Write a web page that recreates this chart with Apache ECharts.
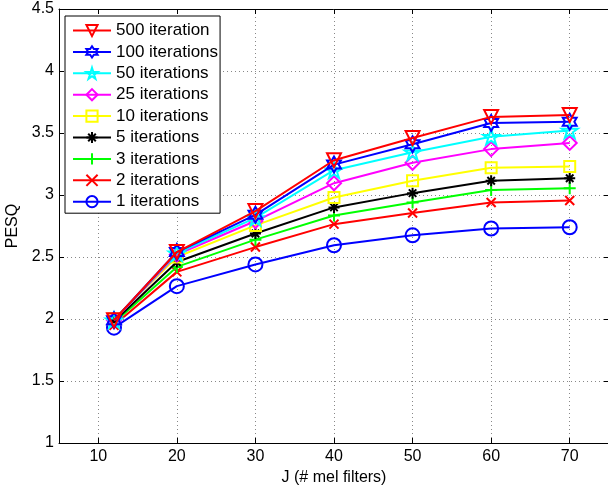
<!DOCTYPE html>
<html>
<head>
<meta charset="utf-8">
<script src="https://cdn.jsdelivr.net/npm/echarts@6/dist/echarts.min.js"></script>
<style>
  html, body { margin: 0; padding: 0; background: #fff; }
  #chart { width: 608px; height: 487px; }
</style>
</head>
<body>
<div id="chart"></div>
<script>
// J (# mel filters)
const J = [12, 20, 30, 40, 50, 60, 70];
const xTicks = [10, 20, 30, 40, 50, 60, 70];

// PESQ per iteration count
const it500 = [1.99, 2.54, 2.87, 3.28, 3.46, 3.63, 3.645];
const it100 = [1.99, 2.54, 2.84, 3.245, 3.41, 3.58, 3.59];
const it50  = [1.99, 2.53, 2.815, 3.20, 3.345, 3.47, 3.52];
const it25  = [1.99, 2.52, 2.79, 3.095, 3.26, 3.37, 3.42];
const it10  = [2.00, 2.50, 2.755, 2.98, 3.115, 3.22, 3.23];
const it5   = [1.98, 2.46, 2.69, 2.90, 3.015, 3.115, 3.135];
const it3   = [1.97, 2.42, 2.64, 2.835, 2.94, 3.04, 3.055];
const it2   = [1.95, 2.38, 2.58, 2.765, 2.855, 2.94, 2.955];
const it1   = [1.93, 2.265, 2.44, 2.595, 2.675, 2.73, 2.74];

const names = ['500 iteration', '100 iterations', '50 iterations', '25 iterations',
  '10 iterations', '5 iterations', '3 iterations', '2 iterations', '1 iterations'];

// 标记形状
const PENTA = 'path://M50,0L61.2,34.5L97.6,34.5L68.2,55.9L79.4,90.5L50,69.1L20.6,90.5L31.8,55.9L2.4,34.5L38.8,34.5Z';
const HEXA = 'path://M50,0L64.4,25L93.3,25L78.9,50L93.3,75L64.4,75L50,100L35.6,75L6.7,75L21.1,50L6.7,25L35.6,25Z';
const ASTER = 'path://M50,0L50,100M0,50L100,50M16,16L84,84M84,16L16,84';
const PLUS = 'path://M50,0L50,100M0,50L100,50';
const CROSS = 'path://M0,0L100,100M100,0L0,100';

const styles = [
  { data: it500, color: '#ff0000', symbol: 'triangle', size: 14, rotate: 180 },
  { data: it100, color: '#0000ff', symbol: HEXA, size: 16 },
  { data: it50,  color: '#00ffff', symbol: PENTA, size: 16 },
  { data: it25,  color: '#ff00ff', symbol: 'diamond', size: 14 },
  { data: it10,  color: '#ffff00', symbol: 'rect', size: 11 },
  { data: it5,   color: '#000000', symbol: ASTER, size: 11 },
  { data: it3,   color: '#00ff00', symbol: PLUS, size: 12 },
  { data: it2,   color: '#ff0000', symbol: CROSS, size: 9 },
  { data: it1,   color: '#0000ff', symbol: 'circle', size: 14 },
];

const FONT = 'Liberation Sans';

const chart = echarts.init(document.getElementById('chart'), null, { renderer: 'canvas' });

const axisCommon = {
  axisLine: { show: true, onZero: false, lineStyle: { color: '#000', width: 1 } },
};

chart.setOption({
  animation: false,
  backgroundColor: '#fff',
  textStyle: { fontFamily: FONT },
  grid: { left: 59, right: -1, top: 9, bottom: 44, outerBoundsMode: 'none', containLabel: false },
  legend: {
    orient: 'vertical',
    left: 65, top: 16,
    padding: [6, 2, 3, 7],
    itemWidth: 38, itemHeight: 14, itemGap: 4.4,
    backgroundColor: '#fff',
    borderColor: '#000', borderWidth: 1, borderRadius: 0,
    textStyle: { fontFamily: FONT, fontSize: 17, color: '#000', lineHeight: 17 },
    data: names,
  },
  xAxis: [
    {
      type: 'value', min: 5, max: 75, position: 'bottom',
      name: 'J (# mel filters)', nameLocation: 'middle', nameGap: 22,
      nameTextStyle: { fontFamily: FONT, fontSize: 16, color: '#000' },
      ...axisCommon,
      axisTick: { inside: true, length: 5, customValues: xTicks, lineStyle: { color: '#000' } },
      axisLabel: { customValues: xTicks, fontFamily: FONT, fontSize: 16, color: '#000', margin: 6 },
      splitLine: { show: true, lineStyle: { color: '#888', type: [1, 3], width: 1 } },
    },
    {
      type: 'value', min: 5, max: 75, position: 'top',
      ...axisCommon,
      axisTick: { inside: true, length: 5, customValues: xTicks, lineStyle: { color: '#000' } },
      axisLabel: { show: false },
      splitLine: { show: false },
    },
  ],
  yAxis: [
    {
      type: 'value', min: 1, max: 4.5, interval: 0.5, position: 'left',
      name: 'PESQ', nameLocation: 'middle', nameGap: 38, nameRotate: 90,
      nameTextStyle: { fontFamily: FONT, fontSize: 16, color: '#000' },
      ...axisCommon,
      axisTick: { inside: true, length: 5, lineStyle: { color: '#000' } },
      axisLabel: { fontFamily: FONT, fontSize: 16, color: '#000', margin: 5 },
      splitLine: { show: true, lineStyle: { color: '#888', type: [1, 3], width: 1 } },
    },
    {
      type: 'value', min: 1, max: 4.5, interval: 0.5, position: 'right',
      ...axisCommon,
      axisTick: { inside: true, length: 5, lineStyle: { color: '#000' } },
      axisLabel: { show: false },
      splitLine: { show: false },
    },
  ],
  series: styles.map((s, i) => ({
    name: names[i],
    type: 'line',
    xAxisIndex: 0, yAxisIndex: 0,
    data: J.map((x, k) => [x, s.data[k]]),
    symbol: s.symbol,
    symbolSize: s.size,
    symbolRotate: s.rotate || 0,
    symbolKeepAspect: true,
    showAllSymbol: true,
    lineStyle: { color: s.color, width: 2 },
    itemStyle: { color: 'none', borderColor: s.color, borderWidth: 2 },
    emphasis: { disabled: true },
    z: 10 - i,
  })),
});
</script>
</body>
</html>
